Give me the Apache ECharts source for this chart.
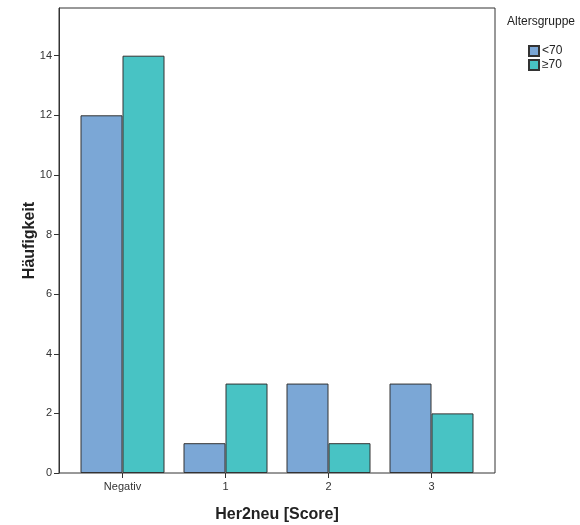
<!DOCTYPE html>
<html>
<head>
<meta charset="utf-8">
<script src="https://cdn.jsdelivr.net/npm/echarts@6/dist/echarts.min.js"></script>
<style>html,body{margin:0;padding:0;background:#fff;}#c{width:580px;height:525px;}</style>
</head>
<body>
<div id="c"></div>
<script>
const categories = ['Negativ', '1', '2', '3'];
const seriesNames = ['<70', '≥70'];
const under70 = [12, 1, 3, 3];
const over70 = [14, 3, 1, 2];
const yTicks = [0, 2, 4, 6, 8, 10, 12, 14];
const legendTitle = 'Altersgruppe';
const xTitle = 'Her2neu [Score]';
const yTitle = 'Häufigkeit';

const font = 'Liberation Sans, Arial, sans-serif';
const chart = echarts.init(document.getElementById('c'), null, {renderer: 'canvas'});
const barStyle = (c) => ({color: c, borderColor: '#333', borderWidth: 1});
chart.setOption({
  animation: false,
  backgroundColor: '#fff',
  textStyle: {fontFamily: font},
  title: {
    text: legendTitle, left: 502, top: 11,
    textStyle: {fontSize: 12, fontWeight: 'normal', color: '#222', fontFamily: font}
  },
  legend: {
    orient: 'vertical', left: 523, top: 40, itemWidth: 10, itemHeight: 10, itemGap: 2,
    icon: 'rect',
    textStyle: {fontSize: 12, color: '#222', fontFamily: font, padding: [0, 0, 0, -2]},
    data: seriesNames
  },
  grid: [
    {left: 71, right: 97, top: 8, bottom: 52, containLabel: false, outerBoundsMode: 'none'},
    {left: 59, right: 85, top: 8, bottom: 52, show: true, borderColor: '#333', borderWidth: 1, backgroundColor: 'transparent', outerBoundsMode: 'none'}
  ],
  xAxis: [
    {
      type: 'category', data: categories, gridIndex: 0,
      axisLine: {show: false},
      axisTick: {show: true, alignWithLabel: true, length: 5, lineStyle: {color: '#333'}},
      axisLabel: {fontSize: 11, color: '#333', margin: 8, fontFamily: font},
      name: xTitle, nameLocation: 'middle', nameGap: 34,
      nameTextStyle: {fontSize: 16, fontWeight: 'bold', color: '#222', fontFamily: font}
    },
    {type: 'value', gridIndex: 1, show: false}
  ],
  yAxis: [
    {
      type: 'value', gridIndex: 0, min: 0, max: 15.6, interval: 2, offset: 12,
      splitLine: {show: false},
      axisLine: {show: true, lineStyle: {color: '#333'}},
      axisTick: {show: true, length: 5, customValues: yTicks, lineStyle: {color: '#333'}},
      axisLabel: {fontSize: 11, color: '#333', margin: 7, customValues: yTicks, fontFamily: font},
      name: yTitle, nameLocation: 'middle', nameGap: 21, nameRotate: 90, nameMoveOverlap: false,
      nameTextStyle: {fontSize: 16, fontWeight: 'bold', color: '#222', fontFamily: font}
    },
    {type: 'value', gridIndex: 1, show: false}
  ],
  series: [
    {name: seriesNames[0], type: 'bar', data: under70, barWidth: 42, barGap: '0%', itemStyle: barStyle('#7ba7d6')},
    {name: seriesNames[1], type: 'bar', data: over70, barWidth: 42, barGap: '0%', itemStyle: barStyle('#48c3c4')}
  ]
});
</script>
</body>
</html>
